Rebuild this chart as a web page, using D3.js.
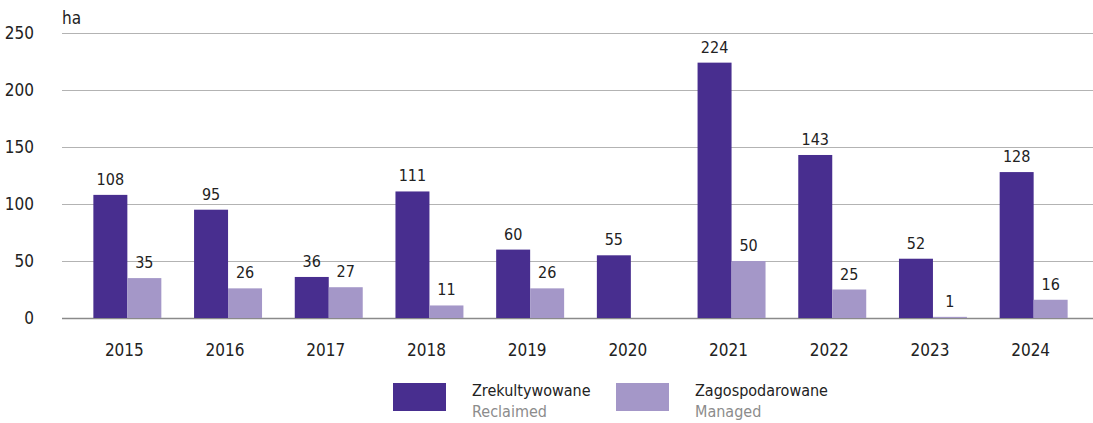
<!DOCTYPE html>
<html>
<head>
<meta charset="utf-8">
<script src="https://cdn.jsdelivr.net/npm/d3@7"></script>
<style>
  body { margin: 0; background: #fff; }
  svg text { font-family: "DejaVu Sans Condensed", "DejaVu Sans", sans-serif; font-stretch: condensed; }
</style>
</head>
<body>
<div id="chart"></div>
<script>
// data
const years = ["2015", "2016", "2017", "2018", "2019", "2020", "2021", "2022", "2023", "2024"];
const reclaimed = [108, 95, 36, 111, 60, 55, 224, 143, 52, 128];
const managed = [35, 26, 27, 11, 26, null, 50, 25, 1, 16];
const yTicks = [0, 50, 100, 150, 200, 250];
const seriesNames = ["Zrekultywowane", "Zagospodarowane"];
const seriesNamesEn = ["Reclaimed", "Managed"];

const W = 1093, H = 423;
const DARK = "#482e8f", LIGHT = "#a497c8";

const svg = d3.select("#chart").append("svg")
    .attr("width", W)
    .attr("height", H);

// scales
var x = d3.scaleBand()
    .domain(years)
    .range([77, 1084])
    .paddingInner(0.325)
    .paddingOuter(0.1625);

var x1 = d3.scaleBand()
    .domain([0, 1])
    .range([0, x.bandwidth()]);

var y = d3.scaleLinear()
    .domain([0, 250])
    .range([318, 33]);

// grid
svg.append("g")
    .selectAll("line")
    .data(yTicks)
    .enter().append("line")
    .attr("x1", 62)
    .attr("x2", W)
    .attr("y1", d => y(d) + 0.5)
    .attr("y2", d => y(d) + 0.5)
    .attr("stroke", d => d === 0 ? "#8a8a8a" : "#b3b3b3")
    .attr("stroke-width", d => d === 0 ? 1.5 : 1);

// y axis labels
svg.append("g")
    .selectAll("text")
    .data(yTicks)
    .enter().append("text")
    .attr("x", 34)
    .attr("y", d => y(d) + 6)
    .attr("text-anchor", "end")
    .attr("font-size", 17)
    .attr("fill", "#222")
    .text(d => d);

svg.append("text")
    .attr("x", 62)
    .attr("y", 24)
    .attr("font-size", 17)
    .attr("fill", "#222")
    .text("ha");

// bars
const rows = years.map((yr, i) => ({ year: yr, vals: [reclaimed[i], managed[i]] }));
const groups = svg.append("g")
    .selectAll("g")
    .data(rows)
    .enter().append("g")
    .attr("transform", d => "translate(" + x(d.year) + ",0)");

const cells = groups.selectAll("g")
    .data(d => d.vals.map((v, k) => ({ k: k, v: v })).filter(c => c.v !== null))
    .enter().append("g");

cells.append("rect")
    .attr("x", c => x1(c.k))
    .attr("width", x1.bandwidth())
    .attr("y", c => y(c.v))
    .attr("height", c => y(0) - y(c.v))
    .attr("fill", c => c.k === 0 ? DARK : LIGHT);

cells.append("text")
    .attr("x", c => x1(c.k) + x1.bandwidth() / 2)
    .attr("y", c => y(c.v) - 10)
    .attr("text-anchor", "middle")
    .attr("font-size", 16)
    .attr("fill", "#222")
    .text(c => c.v);

// x labels
svg.append("g")
    .selectAll("text")
    .data(years)
    .enter().append("text")
    .attr("x", d => x(d) + x.bandwidth() / 2 - 3)
    .attr("y", 356)
    .attr("text-anchor", "middle")
    .attr("font-size", 17)
    .attr("fill", "#222")
    .text(d => d);

// legend
const legX = [393, 616];
const legend = svg.append("g")
    .selectAll("g")
    .data(seriesNames)
    .enter().append("g")
    .attr("transform", (d, i) => "translate(" + legX[i] + ",383)");

legend.append("rect")
    .attr("width", 53)
    .attr("height", 28)
    .attr("fill", (d, i) => i === 0 ? DARK : LIGHT);

legend.append("text")
    .attr("x", 79)
    .attr("y", 13)
    .attr("font-size", 16)
    .attr("fill", "#222")
    .text(d => d);

legend.append("text")
    .attr("x", 79)
    .attr("y", 34)
    .attr("font-size", 16)
    .attr("fill", "#8c8c8c")
    .text((d, i) => seriesNamesEn[i]);
</script>
</body>
</html>
